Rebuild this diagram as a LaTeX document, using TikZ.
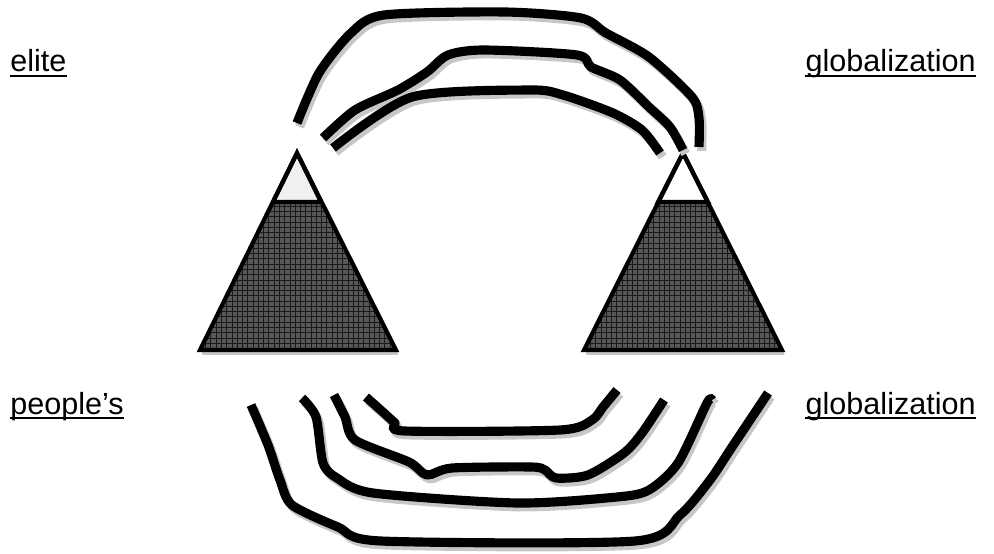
\documentclass[tikz,border=0pt]{standalone}
\usepackage{fontspec}
\setmainfont{Liberation Sans}
\usepackage{tikz}
\usetikzlibrary{patterns,calc}

\tikzset{
  band/.style={line width=5.2pt,line join=round,black},
  bandshade/.style={line width=5.2pt,line join=round,black!22,xshift=1.5pt,yshift=-2.2pt},
  pyramid/.style={line width=2.4pt,line join=miter},
  peak/.style={pyramid},
  lbl/.style={font=\fontsize{17.4}{20}\selectfont,inner sep=0pt},
  uline/.style={line width=1.2pt}
}
\newcommand{\wavy}[1]{%
  \draw[bandshade] plot[smooth,tension=0.45] coordinates {#1};
  \draw[band] plot[smooth,tension=0.45] coordinates {#1};}

\begin{document}
\begin{tikzpicture}[x=0.02cm,y=-0.02cm]
\useasboundingbox (0,0) rectangle (994,554);

% labels
\node[lbl,anchor=base west] (elite) at (10,72) {elite};
\node[lbl,anchor=base east] (globtop) at (976,72) {globalization};
\node[lbl,anchor=base west] (people) at (10,414) {people’s};
\node[lbl,anchor=base east] (globbot) at (976,414) {globalization};
\foreach \n in {elite,globtop,people,globbot}
  \draw[uline] ([yshift=-2.4pt]\n.base west) -- ([yshift=-2.4pt]\n.base east);

% pyramids
\fill[black!22] (202,350) rectangle (398,355);
\fill[black!22] (586,350) rectangle (784,355);
\fill[black!66] (273,202) -- (321,202) -- (396,350) -- (200,350) -- cycle;
\fill[pattern=grid,pattern color=black!90] (273,202) -- (321,202) -- (396,350) -- (200,350) -- cycle;
\fill[black!66] (658,202) -- (708,202) -- (782,350) -- (584,350) -- cycle;
\fill[pattern=grid,pattern color=black!90] (658,202) -- (708,202) -- (782,350) -- (584,350) -- cycle;
\draw[peak,fill=black!6] (297,153) -- (321,202) -- (273,202) -- cycle;
\draw[peak,fill=white] (683,153) -- (708,202) -- (658,202) -- cycle;
\draw[pyramid] (297,153) -- (396,350) -- (200,350) -- cycle;
\draw[pyramid] (683,153) -- (782,350) -- (584,350) -- cycle;

% upper arcs
\wavy{(297,123) (319,73) (351,33) (384,15) (505,12) (581,18) (606,33) (649,57) (692,97) (699,118) (699,147)}
\wavy{(323,138) (355,110) (398,90) (427,72) (448,55) (484,50) (577,55) (591,67) (620,80) (649,107) (670,127) (683,150)}
\wavy{(333,148) (412,97) (530,90) (563,95) (613,113) (642,130) (660,153)}

% lower arcs
\wavy{(366,397) (384,413) (395,423) (405,431) (560,430) (592,420) (603,407) (617,390)}
\wavy{(334,395) (345,417) (355,440) (409,462) (427,475) (452,468) (531,467) (545,470) (556,478) (588,475) (624,453) (642,433) (664,400)}
\wavy{(302,398) (316,417) (323,463) (337,478) (373,493) (517,503) (617,497) (649,490) (678,463) (707,403) (712,400)}
\wavy{(251,405) (268,445) (280,480) (292,505) (338,527) (381,541) (635,541) (680,515) (710,480) (732,447) (768,393)}
\end{tikzpicture}
\end{document}
